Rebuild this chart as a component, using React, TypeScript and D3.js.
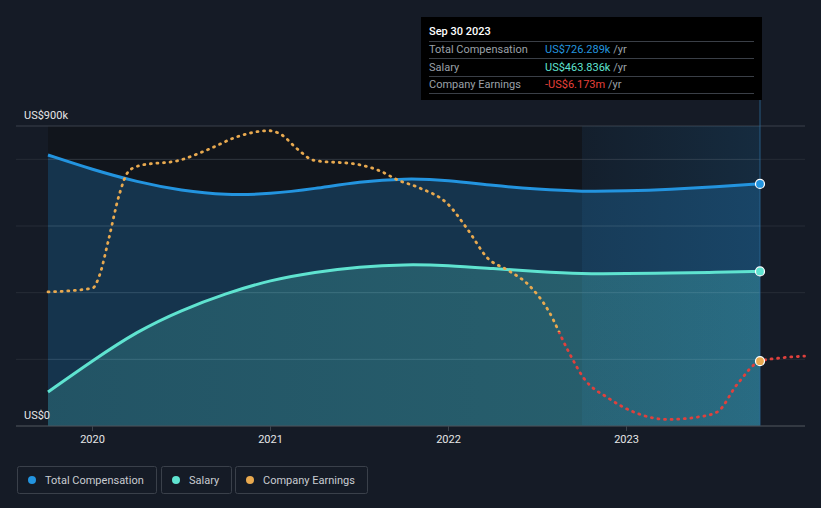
import React from "react";
import * as d3 from "d3";

// decimal years
const compDates = [2019.75, 2020.0, 2020.25, 2020.5, 2020.75, 2021.0, 2021.25, 2021.5, 2021.75, 2022.0, 2022.25, 2022.5, 2022.75, 2023.0, 2023.25, 2023.5, 2023.75];
const totalComp = [813, 769, 732, 706, 692, 696, 712, 733, 743, 738, 721, 710, 703, 705, 710, 718, 726.289];
const salary = [102, 196, 284, 348, 398, 438, 462, 478, 485, 482, 472, 463, 456, 457, 459, 461, 463.836];

const earnDates = [2019.75, 2020.0, 2020.04, 2020.09, 2020.15, 2020.2, 2020.26, 2020.49, 2020.65, 2020.82, 2020.99, 2021.05, 2021.16, 2021.24, 2021.49, 2021.61, 2021.72, 2021.83, 2022.0, 2022.11, 2022.22, 2022.33, 2022.45, 2022.56, 2022.67, 2022.76, 2022.9, 2023.06, 2023.23, 2023.4, 2023.51, 2023.62, 2023.75, 2023.86, 2024.0];
const earnings = [8.6, 9.4, 12.2, 19.7, 29.3, 34.2, 35.5, 36.7, 39.0, 41.8, 43.0, 42.4, 38.8, 36.7, 35.8, 34.5, 32.4, 30.9, 27.2, 21.8, 15.8, 13.3, 10.1, 4.7, -3.8, -9.8, -14.1, -17.3, -18.6, -18.1, -17.0, -11.2, -6.173, -5.5, -5.1];

const yTicks = [0, 200, 400, 600, 800, 900];
const xTicks = [2020, 2021, 2022, 2023];

const tooltipRows = [
  { label: "Total Compensation", value: "US$726.289k", color: "#2394df" },
  { label: "Salary", value: "US$463.836k", color: "#5fe3d0" },
  { label: "Company Earnings", value: "-US$6.173m", color: "#e8403a" },
];
const legendItems = [
  { label: "Total Compensation", color: "#2394df" },
  { label: "Salary", color: "#5fe3d0" },
  { label: "Company Earnings", color: "#e8a94f" },
];

const W = 821, H = 508;
const FONT = "Roboto, 'Open Sans', sans-serif";

export default function App() {
  const x = d3.scaleLinear().domain([2019.75, 2023.75]).range([48, 760]);
  const y = d3.scaleLinear().domain([0, 900]).range([426, 126]);
  const ye = d3.scaleLinear().domain([-20, 44]).range([426, 126]);
  const xL = 16, xR = 805;
  const bandX = x(2022.75);
  const endX = x(2023.75);

  const compPts = compDates.map((d, i) => [d, totalComp[i]] as [number, number]);
  const salPts = compDates.map((d, i) => [d, salary[i]] as [number, number]);
  const earnPts = earnDates.map((d, i) => [d, earnings[i]] as [number, number]);

  const curve = d3.curveBasis;
  const line = d3.line<[number, number]>().x(d => x(d[0])).y(d => y(d[1])).curve(curve);
  const area = d3.area<[number, number]>().x(d => x(d[0])).y0(y(0)).y1(d => y(d[1])).curve(curve);
  const eline = d3.line<[number, number]>().x(d => x(d[0])).y(d => ye(d[1])).curve(d3.curveMonotoneX);

  const zeroY = ye(0);

  const legendBoxes = [
    { x: 17, w: 139 },
    { x: 161, w: 70 },
    { x: 235, w: 132 },
  ];

  return (
    <svg width={W} height={H} style={{ display: "block", position: "absolute", left: 0, top: 0, background: "#151b26" }} fontFamily={FONT}>
      <defs>
        <linearGradient id="band" x1="0" x2="1" y1="0" y2="0">
          <stop offset="0" stopColor="#2394df" stopOpacity="0.04" />
          <stop offset="1" stopColor="#2394df" stopOpacity="0.14" />
        </linearGradient>
        <linearGradient id="earnGrad" gradientUnits="userSpaceOnUse" x1="0" x2="0" y1={126} y2={426}>
          <stop offset={(zeroY - 126) / 300} stopColor="#e8a94f" />
          <stop offset={(zeroY - 126) / 300} stopColor="#e0403c" />
        </linearGradient>
        <linearGradient id="salGrad" x1="0" x2="1" y1="0" y2="0">
          <stop offset="0" stopColor="#5fe3d0" stopOpacity="0.18" />
          <stop offset="1" stopColor="#5fe3d0" stopOpacity="0.26" />
        </linearGradient>
      </defs>
      <rect x={0} y={0} width={W} height={H} fill="#151b26" />
      <rect x={x(2019.75)} y={126} width={bandX - x(2019.75)} height={300} fill="#11151c" />
      <rect x={bandX} y={126} width={endX - bandX} height={300} fill="#131a25" />
      {yTicks.map(t => (
        <line key={t} x1={xL} x2={xR} y1={y(t)} y2={y(t)} stroke={t === 900 ? "#3b414b" : t === 0 ? "#3e444d" : "#262c36"} strokeWidth={1} />
      ))}
      <path d={area(compPts) || ""} fill="#2394df" fillOpacity={0.25} />
      <path d={area(salPts) || ""} fill="url(#salGrad)" />
      <rect x={bandX} y={126} width={endX - bandX} height={300} fill="url(#band)" />
      {yTicks.filter(t => t !== 0 && t !== 900).map(t => (
        <line key={"o" + t} x1={x(2019.75)} x2={endX} y1={y(t)} y2={y(t)} stroke="#ffffff" strokeOpacity={0.06} />
      ))}
      <line x1={endX} x2={endX} y1={100} y2={426} stroke="#2a6a9a" strokeWidth={1} strokeOpacity={0.8} />
      <path d={line(compPts) || ""} fill="none" stroke="#2394df" strokeWidth={3} />
      <path d={line(salPts) || ""} fill="none" stroke="#5fe3d0" strokeWidth={3} />
      <path d={eline(earnPts) || ""} fill="none" stroke="url(#earnGrad)" strokeWidth={2.8} strokeDasharray="1 5.6" strokeLinecap="round" />
      <line x1={xL} x2={xR} y1={426} y2={426} stroke="#3e444d" strokeWidth={1} />
      {xTicks.map(t => (
        <g key={t}>
          <line x1={x(t)} x2={x(t)} y1={426} y2={431} stroke="#3e444d" />
          <text x={x(t)} y={443} textAnchor="middle" fontSize={11} fill="#e6e6e6">{t}</text>
        </g>
      ))}
      <text x={24} y={119} fontSize={11} fill="#e6e6e6">US$900k</text>
      <text x={24} y={419} fontSize={11} fill="#e6e6e6">US$0</text>
      <circle cx={endX} cy={y(totalComp[totalComp.length - 1])} r={4.5} fill="#2394df" stroke="#ffffff" strokeWidth={1.2} />
      <circle cx={endX} cy={y(salary[salary.length - 1])} r={4.5} fill="#5fe3d0" stroke="#ffffff" strokeWidth={1.2} />
      <circle cx={endX} cy={ye(-6.173)} r={4.5} fill="#e8a94f" stroke="#ffffff" strokeWidth={1.2} />
      <rect x={421} y={17} width={341} height={83} fill="#000000" />
      <text x={429} y={35} fontSize={11} fontWeight={500} fill="#ffffff">Sep 30 2023</text>
      {[41, 58, 76, 93].map(yy => (
        <line key={yy} x1={429} x2={754} y1={yy + 0.5} y2={yy + 0.5} stroke="#3a3f47" />
      ))}
      {tooltipRows.map((r, i) => (
        <g key={r.label}>
          <text x={429} y={53 + i * 17.7} fontSize={11} fill="#9ba0a8">{r.label}</text>
          <text x={545} y={53 + i * 17.7} fontSize={11} fill={r.color}>
            {r.value}
            <tspan fill="#9ba0a8"> /yr</tspan>
          </text>
        </g>
      ))}
      {legendItems.map((it, i) => (
        <g key={it.label}>
          <rect x={legendBoxes[i].x + 0.5} y={466.5} width={legendBoxes[i].w} height={27} rx={2} fill="none" stroke="#3a404a" />
          <circle cx={legendBoxes[i].x + 15} cy={480} r={4} fill={it.color} />
          <text x={legendBoxes[i].x + 28} y={484} fontSize={11} fill="#c9ccd1">{it.label}</text>
        </g>
      ))}
    </svg>
  );
}
